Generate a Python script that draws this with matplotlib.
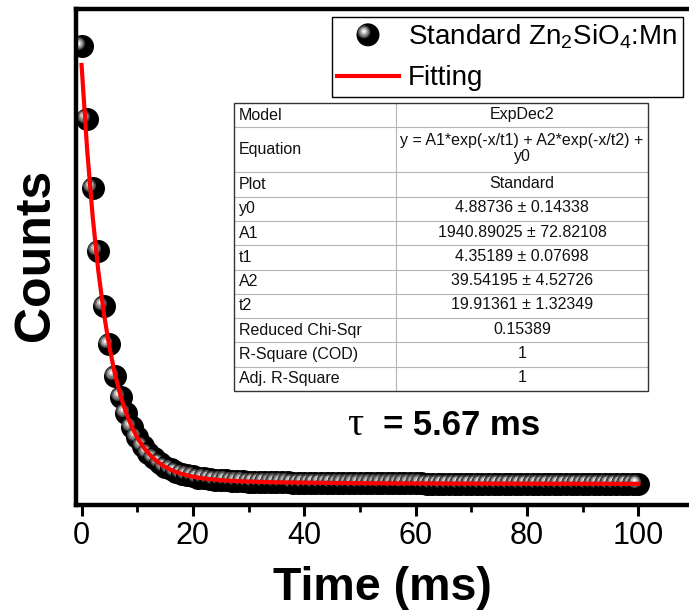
import matplotlib
matplotlib.use('Agg')
import matplotlib.pyplot as plt
import matplotlib.transforms as mtransforms
from matplotlib.patches import Circle, Rectangle
from matplotlib.legend_handler import HandlerBase
from matplotlib.lines import Line2D

plt.rcParams['font.family'] = ['Liberation Sans', 'DejaVu Sans']

# ---------------- data ----------------
time_ms = list(range(0, 101))
counts = [2075, 1730, 1404, 1106, 846, 666, 515, 416, 340, 274, 227,
          184, 151, 125, 104, 87, 73, 62, 53, 46, 40,
          35, 31, 28, 25.5, 23, 21, 19.5, 18, 17, 16,
          15, 14.5, 14, 13, 12.5, 12, 11.5, 11, 10.7, 10.4,
          10.1, 9.8, 9.5, 9.3, 9.1, 8.9, 8.7, 8.5, 8.3, 8.1,
          8.0, 7.8, 7.7, 7.5, 7.4, 7.3, 7.2, 7.0, 6.9, 6.8,
          6.7, 6.6, 6.6, 6.5, 6.4, 6.3, 6.3, 6.2, 6.2, 6.1,
          6.0, 6.0, 5.9, 5.9, 5.8, 5.8, 5.7, 5.7, 5.7, 5.6,
          5.6, 5.5, 5.5, 5.5, 5.4, 5.4, 5.4, 5.4, 5.3, 5.3,
          5.3, 5.3, 5.2, 5.2, 5.2, 5.2, 5.2, 5.1, 5.1, 5.1]

fit_x = list(range(0, 31)) + [35, 40, 45, 50, 55, 60, 65, 70, 75, 80, 85, 90, 95, 100]
fit_y = [1985.3, 1585.0, 1266.5, 1013.1, 811.5, 651.0, 523.2, 421.4, 340.2, 275.6,
         223.9, 182.7, 149.7, 123.4, 102.3, 85.3, 71.7, 60.8, 51.9, 44.8,
         39.0, 34.3, 30.4, 27.2, 24.6, 22.4, 20.5, 19.0, 17.7, 16.6, 15.6,
         12.3, 10.4, 9.1, 8.1, 7.4, 6.8, 6.4, 6.1, 5.8, 5.6, 5.4, 5.3, 5.2, 5.15]

xticks_major = [0, 20, 40, 60, 80, 100]
xticks_minor = [10, 30, 50, 70, 90]

series_label = 'Standard Zn$_\\mathregular{2}$SiO$_\\mathregular{4}$:Mn'
fit_label = 'Fitting'

table_labels = ['Model', 'Equation', 'Plot', 'y0', 'A1', 't1', 'A2', 't2',
                'Reduced Chi-Sqr', 'R-Square (COD)', 'Adj. R-Square']
table_values = ['ExpDec2', 'y = A1*exp(-x/t1) + A2*exp(-x/t2) +\ny0', 'Standard',
                '4.88736 \u00b1 0.14338', '1940.89025 \u00b1 72.82108',
                '4.35189 \u00b1 0.07698', '39.54195 \u00b1 4.52726',
                '19.91361 \u00b1 1.32349', '0.15389', '1', '1']
tau_text = '= 5.67 ms'

# ---------------- figure ----------------
W, H = 689, 612
fig = plt.figure(figsize=(W / 100, H / 100), dpi=100)
fig.patch.set_facecolor('white')
ax = fig.add_axes([76 / W, 1 - 505 / H, 1 - 76 / W, (505 - 9) / H])

# sphere layers: (diameter px, colour, dx px, dy px)
layers = [(23, '#000000', 0, 0), (13, '#444444', -4, 3), (10, '#808080', -4, 3),
          (7, '#bbbbbb', -4, 3.5), (3.5, '#f5f5f5', -4, 3.5)]
layer_tr = [mtransforms.offset_copy(ax.transData, fig=fig, x=dx, y=dy, units='dots')
            for (_, _, dx, dy) in layers]

for i, (xx, yy) in enumerate(zip(time_ms, counts)):
    for j, (d, c, dx, dy) in enumerate(layers):
        ax.plot([xx], [yy], marker='o', ms=d * 0.72, mfc=c, mec='none', ls='none',
                transform=layer_tr[j], zorder=2 + i * 0.01 + j * 0.001)

ax.plot(fit_x, fit_y, color='#ff0000', lw=3, zorder=5)

ax.set_xlim(-1.0, 109.1)
ax.set_ylim(-95, 2250)
ax.set_xticks(xticks_major)
ax.set_xticks(xticks_minor, minor=True)
ax.set_yticks([])
ax.tick_params(axis='x', which='major', direction='out', length=8, width=2.2,
               labelsize=22, pad=3.5)
ax.tick_params(axis='x', which='minor', direction='out', length=5, width=2)
for s in ['left', 'bottom', 'top']:
    ax.spines[s].set_linewidth(3.2)
ax.spines['right'].set_visible(False)

ax.set_xlabel('Time (ms)', fontsize=33.5, fontweight='bold')
ax.xaxis.set_label_coords(0.5, -0.122)
ax.set_ylabel('Counts', fontsize=36, fontweight='bold')
ax.yaxis.set_label_coords(-0.028, 0.505)


# legend
class SphereProxy:
    pass


class HandlerSphere(HandlerBase):
    def create_artists(self, legend, orig_handle, xdescent, ydescent, width,
                       height, fontsize, trans):
        cx = width / 2 - xdescent
        cy = height / 2 - ydescent
        arts = []
        for d, c, dx, dy in layers:
            arts.append(Circle((cx + dx * 0.72, cy + dy * 0.72), d * 0.72 / 2,
                               facecolor=c, edgecolor='none', transform=trans))
        return arts


fit_handle = Line2D([], [], color='#ff0000', lw=3)
leg = ax.legend([SphereProxy(), fit_handle], [series_label, fit_label],
                handler_map={SphereProxy: HandlerSphere()},
                loc='upper right', bbox_to_anchor=(683 / W, 1 - 17 / H),
                bbox_transform=fig.transFigure, fontsize=20, frameon=True,
                fancybox=False, edgecolor='black', framealpha=1, borderpad=0.2,
                labelspacing=0.5, handlelength=2.2, handletextpad=0.35,
                borderaxespad=0)
leg.get_frame().set_linewidth(1.0)
leg.set_zorder(20)

# table
tx0, tx1, ty0, ty1 = 234, 648, 103, 391
colx = 396
tax = fig.add_axes([tx0 / W, 1 - ty1 / H, (tx1 - tx0) / W, (ty1 - ty0) / H])
tax.set_xlim(tx0, tx1)
tax.set_ylim(ty1, ty0)
tax.axis('off')
tax.set_zorder(15)
tax.add_patch(Rectangle((tx0, ty0), tx1 - tx0, ty1 - ty0, facecolor='white',
                        edgecolor='none', zorder=1))
row_h = [45 if '\n' in v else 24.3 for v in table_values]
edges = [ty0]
for h in row_h:
    edges.append(edges[-1] + h)
for k, (lab, val) in enumerate(zip(table_labels, table_values)):
    yc = (edges[k] + edges[k + 1]) / 2
    tax.text(tx0 + 5, yc, lab, ha='left', va='center', fontsize=11.5, color='#111111')
    tax.text((colx + tx1) / 2, yc - 1, val, ha='center', va='center', fontsize=11.5,
             color='#111111', linespacing=1.05)
for e in edges[1:-1]:
    tax.plot([tx0, tx1], [e, e], color='#b5b5b5', lw=0.8, zorder=2)
tax.plot([colx, colx], [ty0, ty1], color='#b5b5b5', lw=0.8, zorder=2)
tax.add_patch(Rectangle((tx0, ty0), tx1 - tx0, ty1 - ty0, facecolor='none',
                        edgecolor='#333333', lw=1.0, zorder=3, clip_on=False))

# tau annotation
fig.text(347 / W, 1 - 435 / H, '\u03c4', family=['Liberation Serif', 'DejaVu Serif'],
         fontsize=29, va='baseline', ha='left')
fig.text(383 / W, 1 - 435 / H, tau_text, fontsize=25, fontweight='bold',
         va='baseline', ha='left')

fig.savefig('out.png', dpi=100, facecolor='white')
